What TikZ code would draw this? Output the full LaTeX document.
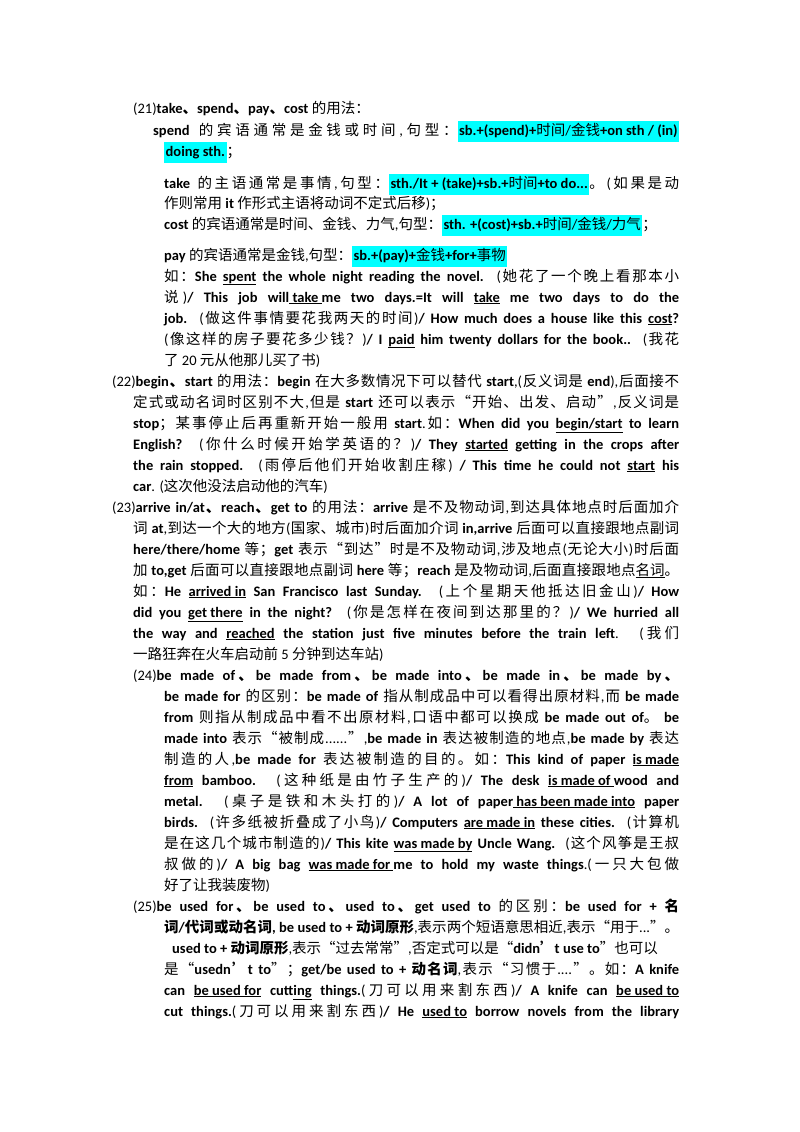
\documentclass[tikz,border=0pt]{standalone}
\usepackage{fontspec}
\setmainfont{Carlito}
\newfontfamily\cjkf{Noto Sans CJK SC}
\newXeTeXintercharclass\myCJK
\makeatletter
\count@="4E00
\loop \XeTeXcharclass\count@=\myCJK \advance\count@ 1 \ifnum\count@<"A000 \repeat
\count@="3000
\loop \XeTeXcharclass\count@=\myCJK \advance\count@ 1 \ifnum\count@<"3040 \repeat
\count@="FF00
\loop \XeTeXcharclass\count@=\myCJK \advance\count@ 1 \ifnum\count@<"FFF0 \repeat
\makeatother
\XeTeXcharclass"201C=\myCJK
\XeTeXcharclass"201D=\myCJK
\XeTeXcharclass"2019=\myCJK
\XeTeXinterchartoks 0 \myCJK = {\cjkf\hskip0pt plus 1pt}
\XeTeXinterchartoks 4095 \myCJK = {\cjkf}
\XeTeXinterchartoks \myCJK 0 = {\rmfamily\hskip0pt plus 1pt}
\XeTeXinterchartoks \myCJK 4095 = {\rmfamily}
\XeTeXinterchartoks \myCJK \myCJK = {\hskip0pt plus 1pt}
\XeTeXinterchartokenstate=1
\definecolor{hlc}{RGB}{0,255,255}
\newcommand\hl[1]{{\setlength\fboxsep{1.5pt}\colorbox{hlc}{\strut#1}}}
\newcommand\ul[1]{\underline{#1}}
\newcommand\T[4]{\node[txt] (#1) at (#2pt,-#3pt) {#4};}
\newcommand\J[4]{\pgfmathsetlengthmacro\jw{679pt-#2pt}\node[txt] (#1) at (#2pt,-#3pt) {\hbox to \jw{#4}};}
\tikzset{txt/.style={anchor=base west,inner sep=0pt,font=\fontsize{14.5}{18}\selectfont}}
\begin{document}
\begin{tikzpicture}
\useasboundingbox[fill=white] (0,0) rectangle (800pt,-1132pt);
\T{a1}{133}{113}{(21)\textbf{take、spend、pay、cost} 的用法：}
\J{a2}{153}{135}{\textbf{spend} 的宾语通常是金钱或时间,句型：\hl{\textbf{sb.+(spend)+}时间/金钱\textbf{+on sth / (in)}}}
\T{a3}{164}{156}{\hl{\textbf{doing sth.}}；}
\J{a4}{164}{188}{\textbf{take} 的主语通常是事情,句型：\hl{\textbf{sth./It + (take)+sb.+}时间\textbf{+to do...}}。(如果是动}
\T{a5}{164}{208}{作则常用 \textbf{it} 作形式主语将动词不定式后移)；}
\T{a6}{164}{229}{\textbf{cost} 的宾语通常是时间、金钱、力气,句型：\hl{\textbf{sth. +(cost)+sb.+}时间/金钱/力气}；}
\T{a7}{164}{260}{\textbf{pay} 的宾语通常是金钱,句型：\hl{\textbf{sb.+(pay)+}金钱\textbf{+for+}事物}}
\J{a8}{164}{281}{如：\textbf{She \ul{spent} the whole night reading the novel.} (她花了一个晚上看那本小}
\J{a9}{164}{302}{说)\textbf{/ This job will\ul{ take }me two days.=It will \ul{take} me two days to do the}}
\J{a10}{164}{323}{\textbf{job.} (做这件事情要花我两天的时间)\textbf{/ How much does a house like this \ul{cost}?}}
\J{a11}{164}{344}{(像这样的房子要花多少钱？)\textbf{/ I \ul{paid} him twenty dollars for the book..} (我花}
\T{a12}{164}{365}{了 20 元从他那儿买了书)}
\J{b1}{112}{386}{(22)\textbf{begin、start} 的用法：\textbf{begin} 在大多数情况下可以替代 \textbf{start},(反义词是 \textbf{end}),后面接不}
\J{b2}{133}{407}{定式或动名词时区别不大,但是 \textbf{start} 还可以表示“开始、出发、启动”,反义词是}
\J{b3}{133}{428}{\textbf{stop}；某事停止后再重新开始一般用 \textbf{start}.如：\textbf{When did you \ul{begin/start} to learn}}
\J{b4}{133}{449}{\textbf{English?} (你什么时候开始学英语的？)\textbf{/ They \ul{started} getting in the crops after}}
\J{b5}{133}{470}{\textbf{the rain stopped.} (雨停后他们开始收割庄稼) \textbf{/ This time he could not \ul{start} his}}
\T{b6}{133}{491}{\textbf{car}. (这次他没法启动他的汽车)}
\J{c1}{112}{512}{(23)\textbf{arrive in/at、reach、get to} 的用法：\textbf{arrive} 是不及物动词,到达具体地点时后面加介}
\J{c2}{133}{533}{词 \textbf{at},到达一个大的地方(国家、城市)时后面加介词 \textbf{in,arrive} 后面可以直接跟地点副词}
\J{c3}{133}{554}{\textbf{here/there/home} 等；\textbf{get} 表示“到达”时是不及物动词,涉及地点(无论大小)时后面}
\J{c4}{133}{575}{加 \textbf{to,get} 后面可以直接跟地点副词 \textbf{here} 等；\textbf{reach} 是及物动词,后面直接跟地点\ul{名词}。}
\J{c5}{133}{596}{如：\textbf{He \ul{arrived in} San Francisco last Sunday.} (上个星期天他抵达旧金山)\textbf{/ How}}
\J{c6}{133}{617}{\textbf{did you \ul{get there} in the night?} (你是怎样在夜间到达那里的？)\textbf{/ We hurried all}}
\J{c7}{133}{638}{\textbf{the way and \ul{reached} the station just five minutes before the train left}. (我们}
\T{c8}{133}{659}{一路狂奔在火车启动前 5 分钟到达车站)}
\J{d1}{133}{680}{(24)\textbf{be made of、be made from、be made into、be made in、be made by、}}
\J{d2}{164}{701}{\textbf{be made for} 的区别：\textbf{be made of} 指从制成品中可以看得出原材料,而 \textbf{be made}}
\J{d3}{164}{722}{\textbf{from} 则指从制成品中看不出原材料,口语中都可以换成 \textbf{be made out of}。 \textbf{be}}
\J{d4}{164}{743}{\textbf{made into} 表示“被制成......”,\textbf{be made in} 表达被制造的地点,\textbf{be made by} 表达}
\J{d5}{164}{764}{制造的人,\textbf{be made for} 表达被制造的目的。如：\textbf{This kind of paper \ul{is made}}}
\J{d6}{164}{785}{\textbf{\ul{from} bamboo.} (这种纸是由竹子生产的)\textbf{/ The desk \ul{is made of }wood and}}
\J{d7}{164}{806}{\textbf{metal.} (桌子是铁和木头打的)\textbf{/ A lot of paper\ul{ has been made into} paper}}
\J{d8}{164}{827}{\textbf{birds.} (许多纸被折叠成了小鸟)\textbf{/ Computers \ul{are made in} these cities.} (计算机}
\J{d9}{164}{848}{是在这几个城市制造的)\textbf{/ This kite \ul{was made by} Uncle Wang.} (这个风筝是王叔}
\J{d10}{164}{869}{叔做的)\textbf{/ A big bag \ul{was made for }me to hold my waste things}.(一只大包做}
\T{d11}{164}{890}{好了让我装废物)}
\J{e1}{133}{911}{(25)\textbf{be used for、be used to、used to、get used to} 的区别：\textbf{be used for + 名}}
\J{e2}{164}{932}{\textbf{词/代词或动名词, be used to + 动词原形},表示两个短语意思相近,表示“用于...”。}
\T{e3}{172}{953}{\textbf{used to + 动词原形},表示“过去常常”,否定式可以是“\textbf{didn’t use to}”也可以}
\J{e4}{164}{974}{是“\textbf{usedn’t to}”；\textbf{get/be used to + 动名词},表示“习惯于....”。如：\textbf{A knife}}
\J{e5}{164}{995}{\textbf{can \ul{be used for} cutt\ul{ing} things.}(刀可以用来割东西)\textbf{/ A knife can \ul{be used to}}}
\J{e6}{164}{1016}{\textbf{cut things.}(刀可以用来割东西)\textbf{/ He \ul{used to} borrow novels from the library}}
\end{tikzpicture}
\end{document}
